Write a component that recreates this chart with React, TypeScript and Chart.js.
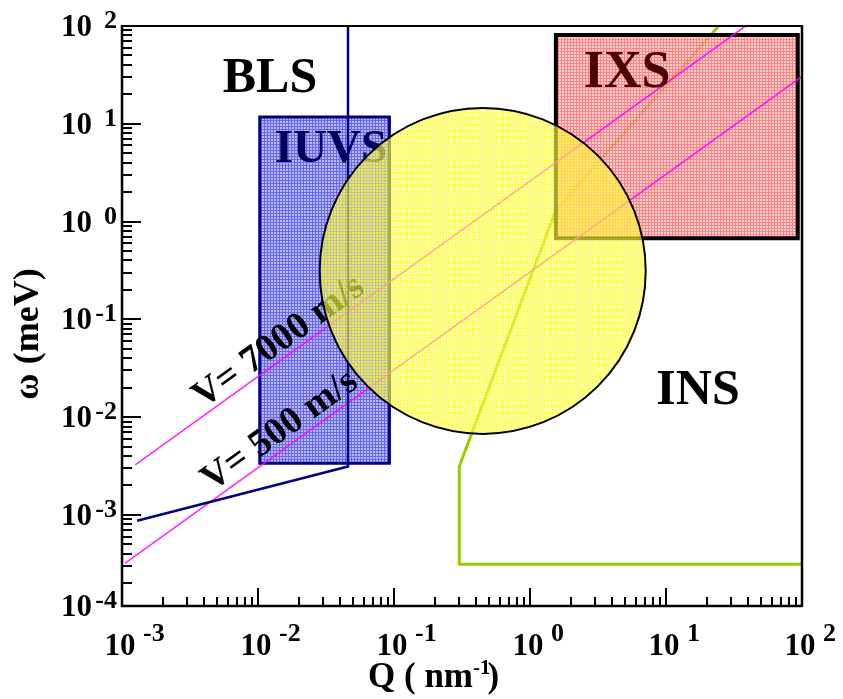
import { useEffect, useRef } from 'react';
import { Chart, registerables } from 'chart.js';

Chart.register(...registerables);

// Axis ranges: Q in nm^-1, ω in meV
const Q_MIN = 1e-3;
const Q_MAX = 1e2;
const W_MIN = 1.17e-4;
const W_MAX = 1e2;

const qTickExponents = [-3, -2, -1, 0, 1, 2];
const wTickExponents = [-4, -3, -2, -1, 0, 1, 2];

// Sound lines ω = ħ v Q
const v7000Q = [1.25e-3, 38.5];
const v7000W = [3.25e-3, 100];
const v500Q = [1.05e-3, 100];
const v500W = [3.2e-4, 30.5];

// Brillouin light scattering boundary
const blsQ = [1.29e-3, 0.0459, 0.0459];
const blsW = [8.7e-4, 3.13e-3, 100];

// Inelastic neutron scattering boundary
const insQ = [100, 0.302, 0.302, 1.55, 24.4];
const insW = [3.13e-4, 3.13e-4, 3.12e-3, 1.31, 100];

// Inelastic UV scattering window
const iuvsQ = [0.0103, 0.0925];
const iuvsW = [3.38e-3, 11.7];

// Inelastic X-ray scattering window
const ixsQ = [1.55, 93.1];
const ixsW = [0.675, 80.9];

// Neutron spin-echo region (centre in data units)
const echoQ = [0.449];
const echoW = [0.313];
const ECHO_RADIUS_PX = 163;

const SERIF = '"Liberation Serif", "Times New Roman", serif';

const zip = (qs: number[], ws: number[]) => qs.map((q, i) => ({ x: q, y: ws[i] }));

// closed rectangle outline (first edge repeated so the corner joins cleanly)
const rect = (qs: number[], ws: number[]) => [
  { x: qs[0], y: ws[0] },
  { x: qs[0], y: ws[1] },
  { x: qs[1], y: ws[1] },
  { x: qs[1], y: ws[0] },
  { x: qs[0], y: ws[0] },
  { x: qs[0], y: ws[1] },
];

function gridPattern(bg: string, line: string, size = 3): CanvasPattern | string {
  const tile = document.createElement('canvas');
  tile.width = size;
  tile.height = size;
  const g = tile.getContext('2d');
  if (!g) return bg;
  g.fillStyle = bg;
  g.fillRect(0, 0, size, size);
  g.clearRect(0, 0, size, 1);
  g.clearRect(0, 0, 1, size);
  g.fillStyle = line;
  g.fillRect(0, 0, size, 1);
  g.fillRect(0, 1, 1, size - 1);
  const host = document.createElement('canvas').getContext('2d');
  return (host && host.createPattern(tile, 'repeat')) || bg;
}

function drawRotated(ctx: CanvasRenderingContext2D, text: string, cx: number, cy: number, angle: number, font: string, color: string) {
  ctx.save();
  ctx.translate(cx, cy);
  ctx.rotate(angle);
  ctx.font = font;
  ctx.fillStyle = color;
  ctx.textAlign = 'center';
  ctx.textBaseline = 'middle';
  ctx.fillText(text, 0, 0);
  ctx.restore();
}

function drawLabel(ctx: CanvasRenderingContext2D, text: string, cx: number, baseline: number, size: number, color: string) {
  ctx.font = `bold ${size}px ${SERIF}`;
  ctx.fillStyle = color;
  ctx.textAlign = 'center';
  ctx.textBaseline = 'alphabetic';
  ctx.fillText(text, cx, baseline);
}

const expText = (e: number) => (e < 0 ? '-' + -e : String(e));

export default function App() {
  const ref = useRef<HTMLCanvasElement>(null);

  useEffect(() => {
    const canvas = ref.current;
    if (!canvas) return;

    const iuvsFill = gridPattern('rgba(140,140,255,0.62)', 'rgba(40,40,225,0.7)');
    const ixsFill = gridPattern('rgba(255,200,200,0.8)', 'rgba(255,100,100,0.8)');
    const echoFill = gridPattern('rgba(255,255,0,0.7)', 'rgba(255,255,120,0.6)');

    const datasets: any[] = [
      {
        type: 'line',
        data: zip(insQ, insW),
        borderColor: '#99cc00',
        borderWidth: 3,
        order: 10,
      },
      {
        type: 'line',
        data: rect(iuvsQ, iuvsW),
        borderColor: '#000080',
        borderWidth: 3,
        backgroundColor: iuvsFill,
        fill: 'shape',
        order: 5,
      },
      {
        type: 'line',
        data: rect(ixsQ, ixsW),
        borderColor: '#000000',
        borderWidth: 4,
        backgroundColor: ixsFill,
        fill: 'shape',
        order: 5,
      },
      {
        type: 'line',
        data: zip(v7000Q, v7000W),
        borderColor: 'rgba(255,0,255,0.85)',
        borderWidth: 1.6,
        order: 4,
      },
      {
        type: 'line',
        data: zip(v500Q, v500W),
        borderColor: 'rgba(255,0,255,0.85)',
        borderWidth: 1.6,
        order: 4,
      },
      {
        type: 'line',
        data: zip(blsQ, blsW),
        borderColor: '#000080',
        borderWidth: 2.5,
        order: 3,
      },
      {
        type: 'bubble',
        data: echoQ.map((q, i) => ({ x: q, y: echoW[i], r: ECHO_RADIUS_PX })),
        backgroundColor: echoFill,
        borderColor: '#000000',
        borderWidth: 2,
        order: 1,
      },
    ];
    const echoIndex = datasets.findIndex((d) => d.type === 'bubble');

    const decorations = {
      id: 'decorations',
      beforeDatasetDraw(chart: any, args: any) {
        if (args.index !== echoIndex) return;
        const ctx: CanvasRenderingContext2D = chart.ctx;
        const xs = chart.scales.x;
        const ys = chart.scales.y;
        const angle = Math.atan2(
          ys.getPixelForValue(v7000W[1]) - ys.getPixelForValue(v7000W[0]),
          xs.getPixelForValue(v7000Q[1]) - xs.getPixelForValue(v7000Q[0])
        );
        drawLabel(ctx, 'IUVS', 331, 162, 47, '#00005c');
        drawLabel(ctx, 'IXS', 627, 87, 52, '#4d0000');
        drawRotated(ctx, 'V= 7000 m/s', 279, 342, angle, `bold 38px ${SERIF}`, '#000');
        drawRotated(ctx, 'V= 500 m/s', 280, 431, angle, `bold 38px ${SERIF}`, '#000');
      },
      afterDatasetsDraw(chart: any) {
        const ctx: CanvasRenderingContext2D = chart.ctx;
        const xs = chart.scales.x;
        const ys = chart.scales.y;
        const { left, right, top, bottom } = chart.chartArea;

        drawLabel(ctx, 'BLS', 270, 92, 50, '#000');
        drawLabel(ctx, 'INS', 698, 404, 50, '#000');

        ctx.save();
        ctx.strokeStyle = '#000';
        ctx.lineCap = 'butt';

        // frame
        ctx.lineWidth = 2;
        ctx.beginPath();
        ctx.moveTo(left, top);
        ctx.lineTo(right, top);
        ctx.stroke();
        ctx.lineWidth = 2.5;
        ctx.beginPath();
        ctx.moveTo(left, top - 1);
        ctx.lineTo(left, bottom);
        ctx.lineTo(right, bottom);
        ctx.moveTo(right, top - 1);
        ctx.lineTo(right, bottom + 1);
        ctx.stroke();

        // inward log ticks
        ctx.lineWidth = 2;
        for (let e = -4; e <= 2; e++) {
          for (let m = 1; m <= 9; m++) {
            const v = m * Math.pow(10, e);
            if (v >= W_MIN && v <= W_MAX * 1.0001) {
              const y = Math.round(ys.getPixelForValue(v));
              ctx.beginPath();
              ctx.moveTo(left, y);
              ctx.lineTo(left + (m === 1 ? 19 : 10), y);
              ctx.stroke();
            }
            if (v >= Q_MIN * 0.9999 && v <= Q_MAX * 1.0001) {
              const x = Math.round(xs.getPixelForValue(v));
              ctx.beginPath();
              ctx.moveTo(x, bottom);
              ctx.lineTo(x, bottom - (m === 1 ? 18 : 9));
              ctx.stroke();
            }
          }
        }

        // tick labels: powers of ten with raised exponents
        ctx.fillStyle = '#000';
        ctx.textBaseline = 'alphabetic';
        for (const e of wTickExponents) {
          const y = Math.min(bottom, ys.getPixelForValue(Math.pow(10, e)));
          ctx.textAlign = 'right';
          ctx.font = `bold 31px ${SERIF}`;
          ctx.fillText('10', 92, y + 10);
          ctx.font = `bold 26px ${SERIF}`;
          ctx.fillText(expText(e), 117, y + 2);
        }
        for (const e of qTickExponents) {
          const x = xs.getPixelForValue(Math.pow(10, e));
          ctx.textAlign = 'center';
          ctx.font = `bold 31px ${SERIF}`;
          ctx.fillText('10', x - 2, 655);
          ctx.textAlign = 'left';
          ctx.font = `bold 26px ${SERIF}`;
          ctx.fillText(expText(e), x + 21, 641);
        }

        // axis titles
        ctx.save();
        ctx.translate(29, 334);
        ctx.rotate(-Math.PI / 2);
        ctx.textAlign = 'center';
        ctx.textBaseline = 'middle';
        ctx.font = `bold 36px ${SERIF}`;
        ctx.fillText('ω (meV)', 0, 0);
        ctx.restore();

        ctx.textAlign = 'left';
        ctx.font = `bold 35px ${SERIF}`;
        const qMain = 'Q ( nm';
        let qx = 368;
        ctx.fillText(qMain, qx, 687);
        qx += ctx.measureText(qMain).width;
        ctx.font = `bold 21px ${SERIF}`;
        ctx.fillText('-1', qx, 674);
        qx += ctx.measureText('-1').width - 3;
        ctx.font = `bold 35px ${SERIF}`;
        ctx.fillText(')', qx, 687);

        ctx.restore();
      },
    };

    const chart = new Chart(canvas, {
      type: 'line',
      data: { datasets },
      options: {
        animation: false,
        responsive: false,
        devicePixelRatio: 1,
        events: [],
        layout: { autoPadding: false, padding: { left: 0, top: 26, right: 41, bottom: 0 } },
        elements: {
          line: { tension: 0, borderJoinStyle: 'miter', fill: false },
          point: { radius: 0, hoverRadius: 0 },
        },
        plugins: {
          legend: { display: false },
          tooltip: { enabled: false },
        },
        scales: {
          x: {
            type: 'logarithmic',
            min: Q_MIN,
            max: Q_MAX,
            grid: { display: false },
            border: { display: false },
            ticks: { display: false },
            afterFit: (s: any) => {
              s.height = 93;
            },
          },
          y: {
            type: 'logarithmic',
            min: W_MIN,
            max: W_MAX,
            grid: { display: false },
            border: { display: false },
            ticks: { display: false },
            afterFit: (s: any) => {
              s.width = 122;
            },
          },
        },
      } as any,
      plugins: [decorations],
    });

    return () => chart.destroy();
  }, []);

  return (
    <div style={{ position: 'fixed', left: 0, top: 0, width: 843, height: 699, background: '#ffffff' }}>
      <canvas ref={ref} width={843} height={699} style={{ display: 'block', width: 843, height: 699 }} />
    </div>
  );
}
